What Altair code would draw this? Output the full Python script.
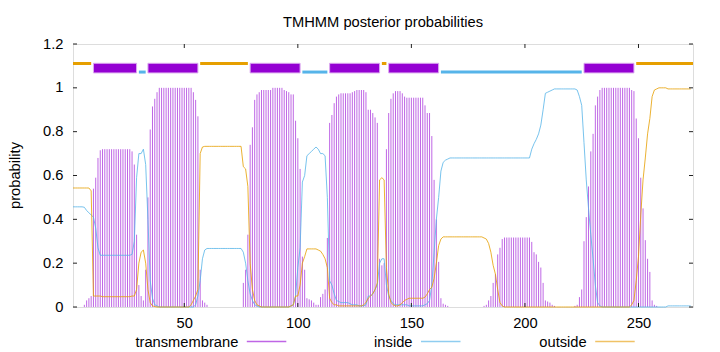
import altair as alt
import pandas as pd

# ---------------- data ----------------
residues = list(range(1, 274))

tm = [
    0, 0, 0, 0, 0, 0.01, 0.03, 0.04, 0.05, 0.54,
    0.59, 0.68, 0.715, 0.72, 0.72, 0.72, 0.72, 0.72, 0.72, 0.72,
    0.72, 0.72, 0.72, 0.72, 0.72, 0.72, 0.71, 0.65, 0.33, 0.1,
    0.05, 0.03, 0.17, 0.5, 0.81, 0.915, 0.95, 0.98, 1.0, 1.0,
    1.0, 1.0, 1.0, 1.0, 1.0, 1.0, 1.0, 1.0, 1.0, 1.0,
    1.0, 1.0, 1.0, 0.98, 0.945, 0.87, 0.17, 0.03, 0.02, 0.01,
    0, 0, 0, 0, 0, 0, 0, 0, 0, 0,
    0, 0, 0, 0, 0, 0.11, 0.17, 0.33, 0.74, 0.82,
    0.945, 0.97, 0.98, 0.99, 0.99, 0.99, 0.99, 0.99, 1.0, 1.0,
    1.0, 1.0, 1.0, 0.99, 0.985, 0.98, 0.97, 0.97, 0.85, 0.77,
    0.63, 0.23, 0.17, 0.04, 0.035, 0.03, 0.02, 0.01, 0.01, 0.045,
    0.06, 0.08, 0.315, 0.84, 0.876, 0.93, 0.96, 0.97, 0.975, 0.975,
    0.975, 0.975, 0.975, 0.98, 0.985, 0.99, 0.99, 0.99, 0.99, 0.98,
    0.9, 0.9, 0.885, 0.865, 0.84, 0.22, 0.19, 0.2, 0.72, 0.885,
    0.95, 0.975, 0.985, 0.985, 0.985, 0.975, 0.96, 0.955, 0.955, 0.955,
    0.955, 0.955, 0.955, 0.955, 0.955, 0.92, 0.885, 0.885, 0.78, 0.58,
    0.4, 0.206, 0.04, 0.015, 0.01, 0.005, 0, 0, 0, 0,
    0, 0, 0, 0, 0, 0, 0, 0, 0, 0,
    0, 0.005, 0.01, 0.03, 0.05, 0.11, 0.15, 0.24, 0.27, 0.31,
    0.317, 0.317, 0.317, 0.317, 0.317, 0.317, 0.317, 0.317, 0.317, 0.317,
    0.317, 0.317, 0.297, 0.25, 0.24, 0.206, 0.18, 0.11, 0.03, 0.025,
    0.02, 0.01, 0.005, 0, 0, 0, 0, 0, 0, 0,
    0, 0.005, 0.01, 0.045, 0.08, 0.3, 0.41, 0.55, 0.71, 0.79,
    0.92, 0.96, 0.99, 1.0, 1.0, 1.0, 1.0, 1.0, 1.0, 1.0,
    1.0, 1.0, 1.0, 1.0, 1.0, 1.0, 0.99, 0.985, 0.86, 0.77,
    0.59, 0.45, 0.305, 0.22, 0.16, 0.03, 0.01, 0.005, 0, 0,
    0, 0, 0, 0, 0, 0, 0, 0, 0, 0,
    0, 0, 0,
]

inside = [
    0.457, 0.457, 0.457, 0.457, 0.457, 0.455, 0.44, 0.43, 0.42, 0.41,
    0.36, 0.27, 0.236, 0.236, 0.236, 0.236, 0.236, 0.236, 0.236, 0.236,
    0.236, 0.236, 0.236, 0.236, 0.236, 0.236, 0.24, 0.3, 0.59, 0.7,
    0.7, 0.72, 0.65, 0.4, 0.12, 0.04, 0.01, 0.005, 0, 0,
    0, 0, 0, 0, 0, 0, 0, 0, 0, 0,
    0, 0, 0, 0, 0.01, 0.05, 0.12, 0.22, 0.26, 0.267,
    0.267, 0.267, 0.267, 0.267, 0.267, 0.267, 0.267, 0.267, 0.267, 0.267,
    0.267, 0.267, 0.267, 0.267, 0.267, 0.25, 0.2, 0.12, 0.06, 0.03,
    0.01, 0.005, 0, 0, 0, 0, 0, 0, 0, 0,
    0, 0, 0, 0, 0, 0, 0.005, 0.01, 0.05, 0.18,
    0.27, 0.57, 0.6, 0.69, 0.7, 0.71, 0.72, 0.73, 0.72, 0.7,
    0.7, 0.69, 0.5, 0.12, 0.1, 0.06, 0.03, 0.025, 0.02, 0.02,
    0.02, 0.02, 0.015, 0.01, 0.01, 0.01, 0.005, 0.005, 0.005, 0.01,
    0.05, 0.05, 0.06, 0.08, 0.1, 0.2, 0.22, 0.22, 0.1, 0.05,
    0.03, 0.015, 0.01, 0.01, 0.01, 0.01, 0.01, 0.01, 0.005, 0.005,
    0.005, 0.005, 0.005, 0.005, 0.005, 0.01, 0.015, 0.03, 0.1, 0.25,
    0.4, 0.5, 0.62, 0.66, 0.67, 0.675, 0.68, 0.68, 0.68, 0.68,
    0.68, 0.68, 0.68, 0.68, 0.68, 0.68, 0.68, 0.68, 0.68, 0.68,
    0.68, 0.68, 0.68, 0.68, 0.68, 0.68, 0.68, 0.68, 0.68, 0.68,
    0.68, 0.68, 0.68, 0.68, 0.68, 0.68, 0.68, 0.68, 0.68, 0.68,
    0.68, 0.68, 0.72, 0.745, 0.765, 0.79, 0.83, 0.9, 0.975, 0.98,
    0.985, 0.99, 0.995, 0.995, 0.995, 0.995, 0.995, 0.995, 0.995, 0.995,
    0.995, 0.995, 0.99, 0.96, 0.92, 0.75, 0.58, 0.45, 0.33, 0.22,
    0.1, 0.02, 0.005, 0, 0, 0, 0, 0, 0, 0,
    0, 0, 0, 0, 0, 0, 0, 0, 0, 0,
    0, 0, 0, 0, 0, 0, 0, 0, 0, 0,
    0, 0, 0.005, 0.005, 0.005, 0.005, 0.005, 0.005, 0.005, 0.005,
    0.005, 0.005, 0.005,
]

outside = [
    0.543, 0.543, 0.543, 0.543, 0.543, 0.543, 0.543, 0.543, 0.53, 0.05,
    0.05, 0.05, 0.05, 0.047, 0.047, 0.047, 0.047, 0.047, 0.047, 0.047,
    0.047, 0.047, 0.047, 0.047, 0.047, 0.047, 0.05, 0.05, 0.08, 0.2,
    0.25, 0.26, 0.2, 0.08, 0.02, 0.005, 0.002, 0, 0, 0,
    0, 0, 0, 0, 0, 0, 0, 0, 0, 0,
    0, 0, 0.01, 0.03, 0.05, 0.08, 0.7, 0.73, 0.733, 0.733,
    0.733, 0.733, 0.733, 0.733, 0.733, 0.733, 0.733, 0.733, 0.733, 0.733,
    0.733, 0.733, 0.733, 0.733, 0.733, 0.64, 0.63, 0.55, 0.2, 0.08,
    0.03, 0.01, 0.005, 0, 0, 0, 0, 0, 0, 0,
    0, 0, 0, 0, 0, 0, 0.005, 0.01, 0.05, 0.05,
    0.1, 0.2, 0.23, 0.265, 0.265, 0.265, 0.265, 0.265, 0.26, 0.255,
    0.24, 0.22, 0.18, 0.04, 0.02, 0.01, 0.01, 0.005, 0.005, 0.005,
    0.005, 0.005, 0.005, 0.005, 0.005, 0.005, 0.005, 0.005, 0.01, 0.02,
    0.04, 0.05, 0.06, 0.08, 0.11, 0.58, 0.59, 0.58, 0.18, 0.06,
    0.02, 0.01, 0.005, 0.005, 0.01, 0.02, 0.03, 0.035, 0.04, 0.04,
    0.04, 0.04, 0.04, 0.04, 0.04, 0.045, 0.06, 0.08, 0.09, 0.13,
    0.2, 0.28, 0.31, 0.32, 0.32, 0.32, 0.32, 0.32, 0.32, 0.32,
    0.32, 0.32, 0.32, 0.32, 0.32, 0.32, 0.32, 0.32, 0.32, 0.32,
    0.32, 0.315, 0.31, 0.29, 0.25, 0.19, 0.15, 0.08, 0.02, 0.005,
    0, 0, 0, 0, 0, 0, 0, 0, 0, 0,
    0, 0, 0, 0, 0, 0, 0, 0, 0, 0,
    0, 0, 0, 0, 0, 0, 0, 0, 0, 0,
    0, 0, 0, 0, 0, 0, 0, 0, 0, 0,
    0, 0, 0, 0, 0, 0, 0, 0, 0, 0,
    0, 0, 0, 0, 0, 0, 0.01, 0.03, 0.12, 0.23,
    0.42, 0.58, 0.68, 0.79, 0.86, 0.96, 0.99, 0.995, 1.0, 1.0,
    1.0, 1.0, 0.995, 0.995, 0.995, 0.995, 0.995, 0.995, 0.995, 0.995,
    0.995, 0.995, 0.995,
]

# predicted topology (residue ranges)
tm_start = [10, 34, 79, 114, 140, 226]
tm_end = [29, 56, 101, 136, 162, 248]
in_start = [30, 102, 163]
in_end = [33, 113, 225]
out_start = [1, 57, 137, 249]
out_end = [9, 78, 139, 274]

x_tick_values = [50, 100, 150, 200, 250]
y_tick_values = [0, 0.2, 0.4, 0.6, 0.8, 1.0, 1.2]
legend_labels = ["transmembrane", "inside", "outside"]
title_text = "TMHMM posterior probabilities"

# ---------------- chart ----------------
FONT = "Liberation Sans"
FS = 14.7
PURPLE = "#9400d3"
BLUE = "#56b4e9"
ORANGE = "#e69f00"
W, H = 620, 263

probs = pd.DataFrame({"residue": residues, "tm": tm, "inside": inside, "outside": outside})
tm_df = pd.DataFrame({"start": tm_start, "end": tm_end})
in_df = pd.DataFrame({"start": in_start, "end": in_end})
out_df = pd.DataFrame({"start": out_start, "end": out_end})
xt_df = pd.DataFrame({"v": x_tick_values})
yt_df = pd.DataFrame({"v": y_tick_values})

xs = alt.Scale(domain=[1, 274], nice=False, zero=False)
ys = alt.Scale(domain=[0, 1.2], nice=False, zero=False)

x_axis = alt.Axis(values=x_tick_values, title=None, ticks=False, domain=False, grid=False,
                  labelPadding=8, labelFont=FONT, labelFontSize=FS, labelColor="black")
y_axis = alt.Axis(values=y_tick_values, format="~g", title="probability", ticks=False,
                  domain=False, grid=False, labelPadding=10, labelFont=FONT,
                  labelFontSize=FS, labelColor="black", titleFont=FONT, titleFontSize=FS,
                  titleFontWeight="normal", titleColor="black", titleX=-58, titleY=131,
                  titleBaseline="middle")

X = lambda f: alt.X(f, scale=xs, axis=x_axis)
Y = lambda f: alt.Y(f, scale=ys, axis=y_axis)

impulses = alt.Chart(probs).mark_rule(color=PURPLE, strokeWidth=1, opacity=0.6).encode(
    x=X("residue:Q"), y=Y("tm:Q"), y2=alt.datum(0),
)
in_line = alt.Chart(probs).mark_line(color=BLUE, strokeWidth=1, opacity=0.8).encode(
    x=X("residue:Q"), y=Y("inside:Q"),
)
out_line = alt.Chart(probs).mark_line(color=ORANGE, strokeWidth=1, opacity=0.8).encode(
    x=X("residue:Q"), y=Y("outside:Q"),
)

out_bar = alt.Chart(out_df).mark_rule(color=ORANGE, strokeWidth=3).encode(
    x=X("start:Q"), x2="end:Q", y=alt.datum(1.111),
)
in_bar = alt.Chart(in_df).mark_rule(color=BLUE, strokeWidth=3).encode(
    x=X("start:Q"), x2="end:Q", y=alt.datum(1.072),
)
tm_bar = alt.Chart(tm_df).mark_rect(color=PURPLE, stroke="#dcaaf0", strokeWidth=1).encode(
    x=X("start:Q"), x2="end:Q", y=alt.datum(1.068), y2=alt.datum(1.112),
)

tick_color = "#222222"
ticks_left = alt.Chart(yt_df).mark_rule(color=tick_color, strokeWidth=1).encode(
    y=Y("v:Q"), x=alt.value(0), x2=alt.value(4))
ticks_right = alt.Chart(yt_df).mark_rule(color=tick_color, strokeWidth=1).encode(
    y=Y("v:Q"), x=alt.value(W - 4), x2=alt.value(W))
ticks_bottom = alt.Chart(xt_df).mark_rule(color=tick_color, strokeWidth=1).encode(
    x=X("v:Q"), y=alt.value(H), y2=alt.value(H - 4))
ticks_top = alt.Chart(xt_df).mark_rule(color=tick_color, strokeWidth=1).encode(
    x=X("v:Q"), y=alt.value(0), y2=alt.value(4))

title_df = pd.DataFrame({"t": [title_text]})
title_mark = alt.Chart(title_df).mark_text(
    align="center", baseline="alphabetic", font=FONT, fontSize=FS, color="black"
).encode(text="t:N", x=alt.value(W / 2), y=alt.value(-17.3))

# key below the plot: label followed by a line sample
legend_layers = []
legend_colors = ["#bf66e5", "#8fcdf0", "#f0c266"]
for i, (lab, col) in enumerate(zip(legend_labels, legend_colors)):
    xr = 165.3 + i * 174.2
    d = pd.DataFrame({"label": [lab], "key": [i]})
    legend_layers.append(
        alt.Chart(d).mark_text(align="right", baseline="alphabetic", font=FONT,
                               fontSize=FS, color="black").encode(
            text="label:N", x=alt.value(xr), y=alt.value(302.5))
    )
    legend_layers.append(
        alt.Chart(d).mark_rule(strokeWidth=1.4, stroke=col, color=col).encode(
            x=alt.value(xr + 8.5), x2=alt.value(xr + 48), y=alt.value(297.5))
    )

chart = alt.layer(
    impulses, in_line, out_line, out_bar, in_bar, tm_bar,
    ticks_left, ticks_right, ticks_bottom, ticks_top, title_mark, *legend_layers,
).properties(
    width=W, height=H,
    autosize=alt.AutoSizeParams(type="none"),
    padding={"left": 73, "top": 44, "right": 27, "bottom": 45},
).configure_view(stroke="black", strokeWidth=1).configure(background="white")

chart.save("out.html", embed_options={"renderer": "svg", "actions": False})
